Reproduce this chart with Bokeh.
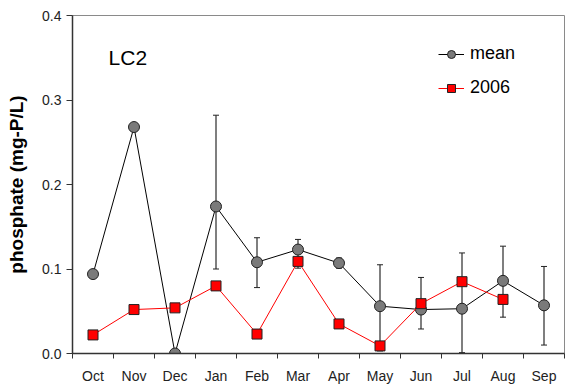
import math
from bokeh.plotting import figure
from bokeh.models import (Range1d, FixedTicker, PrintfTickFormatter, Whisker, TeeHead,
                          ColumnDataSource, Legend, LegendItem, Label)
from bokeh.embed import file_html
from bokeh.resources import INLINE

nan = float("nan")

months = ["Oct", "Nov", "Dec", "Jan", "Feb", "Mar", "Apr", "May", "Jun", "Jul", "Aug", "Sep"]
mean_vals = [0.094, 0.268, 0.0, 0.174, 0.108, 0.123, 0.107, 0.056, 0.052, 0.053, 0.086, 0.057]
err_upper = [nan, nan, nan, 0.282, 0.137, 0.135, 0.113, 0.105, 0.090, 0.119, 0.127, 0.103]
err_lower = [nan, nan, nan, 0.100, 0.078, 0.101, 0.101, 0.003, 0.029, 0.001, 0.043, 0.010]
vals_2006 = [0.022, 0.052, 0.054, 0.080, 0.023, 0.109, 0.035, 0.009, 0.059, 0.085, 0.064, nan]
y_ticks = [0.0, 0.1, 0.2, 0.3, 0.4]

FONT = "Liberation Sans"

xs = [i + 0.5 for i in range(len(months))]

p = figure(width=565, height=387, output_backend="svg", toolbar_location=None,
           x_range=Range1d(0, len(months)), y_range=Range1d(0, 0.4),
           min_border_left=72, min_border_right=1, min_border_top=15, min_border_bottom=34)
p.xgrid.visible = False
p.ygrid.visible = False
p.outline_line_color = "#8a8a8a"
p.outline_line_width = 1
p.background_fill_color = "white"
p.border_fill_color = "white"

# x axis: labels at category centres, ticks at boundaries
xa = p.xaxis[0]
xa.ticker = FixedTicker(ticks=xs, minor_ticks=list(range(len(months) + 1)))
xa.major_label_overrides = {x: m for x, m in zip(xs, months)}
xa.major_tick_out = 5
xa.major_tick_in = 0
xa.major_tick_line_color = None
xa.minor_tick_out = 5
xa.minor_tick_in = 0
xa.minor_tick_line_color = "#333333"
xa.axis_line_color = "#333333"
xa.axis_line_width = 1.5
xa.major_label_text_font = FONT
xa.major_label_text_font_size = "14px"
xa.major_label_text_color = "#222222"
xa.major_label_standoff = 9

ya = p.yaxis[0]
ya.ticker = FixedTicker(ticks=y_ticks, minor_ticks=[])
ya.formatter = PrintfTickFormatter(format="%.1f")
ya.major_tick_out = 6
ya.major_tick_in = 0
ya.major_tick_line_color = "#333333"
ya.axis_line_color = "#333333"
ya.axis_line_width = 1.5
ya.major_label_text_font = FONT
ya.major_label_text_font_size = "14px"
ya.major_label_text_color = "#222222"
ya.major_label_standoff = 5
ya.axis_label = "phosphate (mg-P/L)"
ya.axis_label_text_font = FONT
ya.axis_label_text_font_style = "bold"
ya.axis_label_text_font_size = "19px"
ya.axis_label_text_color = "black"
ya.axis_label_standoff = 12

# error bars
ex, eu, el = [], [], []
for x, u, l in zip(xs, err_upper, err_lower):
    if not (math.isnan(u) or math.isnan(l)):
        ex.append(x); eu.append(u); el.append(l)
esrc = ColumnDataSource(dict(x=ex, upper=eu, lower=el))
w = Whisker(source=esrc, base="x", upper="upper", lower="lower", dimension="height",
            line_color="#555555", line_width=1.5,
            upper_head=TeeHead(size=6, line_color="#222222", line_width=1),
            lower_head=TeeHead(size=6, line_color="#222222", line_width=1))
p.add_layout(w)

mean_line = p.line(xs, mean_vals, line_color="black", line_width=1)
mean_pts = p.scatter(xs, mean_vals, marker="circle", size=11, fill_color="#7a7a7a",
                     line_color="#222222", line_width=1)

line06 = p.line(xs, vals_2006, line_color="#ff0000", line_width=1)
pts06 = p.scatter(xs, vals_2006, marker="square", size=10, fill_color="#ff0000",
                  line_color="#222222", line_width=1)

legend = Legend(items=[LegendItem(label="mean", renderers=[mean_line, mean_pts]),
                       LegendItem(label="2006", renderers=[line06, pts06])],
                location=(366, 255))
legend.border_line_color = None
legend.background_fill_alpha = 0
legend.padding = 0
legend.margin = 0
legend.spacing = 13
legend.glyph_width = 26
legend.glyph_height = 20
legend.label_height = 20
legend.label_standoff = 6
legend.label_text_font = FONT
legend.label_text_font_size = "18px"
legend.label_text_color = "black"
p.add_layout(legend)

lbl = Label(x=0.88, y=0.350, text="LC2", text_font=FONT, text_font_size="21px",
            text_baseline="middle", text_align="left", text_color="black")
p.add_layout(lbl)

open("out.html", "w").write(file_html(p, INLINE))
